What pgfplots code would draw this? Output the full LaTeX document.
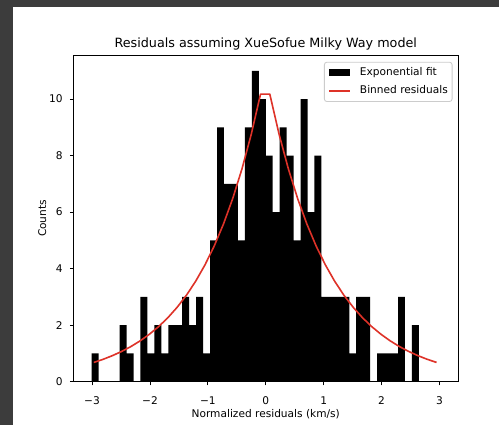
\documentclass[border=0pt]{standalone}
\usepackage{pgfplots}
\pgfplotsset{compat=1.18}
\usepackage{fontspec}
\setmainfont{DejaVu Sans}

\definecolor{framegray}{RGB}{60,60,60}
\definecolor{fitred}{RGB}{222,50,40}
\definecolor{legedge}{RGB}{204,204,204}

\newcommand{\tickfont}{\fontsize{10.6}{12.7}\selectfont}
\newcommand{\titlefont}{\fontsize{12.75}{15}\selectfont}

\begin{document}
\begin{tikzpicture}
\path[use as bounding box] (0pt,0pt) rectangle (499pt,425pt);
\fill[framegray] (0pt,0pt) rectangle (499pt,425pt);
\fill[white] (13pt,0pt) rectangle (499pt,418pt);
\begin{axis}[
  at={(73.5pt,43.3pt)}, anchor=south west, scale only axis,
  width=384.5pt, height=326.4pt,
  xmin=-3.32, xmax=3.32, ymin=0, ymax=11.55,
  axis line style={line width=0.85pt, black},
  tick style={line width=0.85pt, black},
  major tick length=3.7pt,
  tick align=outside,
  xtick pos=left, ytick pos=left,
  xtick={-3,-2,-1,0,1,2,3},
  xticklabels={−3,−2,−1,0,1,2,3},
  ytick={0,2,4,6,8,10},
  /pgf/number format/assume math mode=true,
  ticklabel style={font=\tickfont},
  xticklabel style={anchor=base, inner sep=0pt, yshift=-18.8pt},
  yticklabel style={anchor=east, inner sep=0pt, xshift=-7pt},
  title={Residuals assuming XueSofue Milky Way model},
  title style={font=\titlefont, at={(axis description cs:0.5,1)}, anchor=base, inner sep=0pt, yshift=2.1pt},
  xlabel={Normalized residuals (km/s)},
  xlabel style={font=\tickfont, at={(axis description cs:0.5,0)}, anchor=base, inner sep=0pt, yshift=-36pt},
  ylabel={Counts},
  ylabel style={font=\tickfont, at={(axis description cs:0,0.5)}, anchor=center, inner sep=0pt, yshift=31.2pt},
  legend cell align=left,
  legend style={at={(1,1)}, anchor=north east, xshift=-5.5pt, yshift=-6.5pt,
    draw=legedge, line width=0.85pt, rounded corners=2.5pt, fill=white,
    inner xsep=4.3pt, inner ysep=5.3pt, row sep=8.7pt, column sep=8.7pt,
    font=\tickfont,
    nodes={inner sep=0pt, text height=7.7pt, text depth=2.3pt, anchor=west}},
]
% histogram of the normalized residuals: 47 bins of width 0.1202 from -3.005
\addplot[const plot, fill=black, draw=none,
  legend image code/.code={\fill[black, sharp corners] (0pt,-3.7pt) rectangle (21pt,3.7pt);}]
coordinates {
(-3.0050,1) (-2.8848,0) (-2.7646,0) (-2.6444,0) (-2.5242,2) (-2.4040,1)
(-2.2838,0) (-2.1636,3) (-2.0434,1) (-1.9232,2) (-1.8030,1) (-1.6828,2)
(-1.5626,2) (-1.4424,3) (-1.3222,2) (-1.2020,3) (-1.0818,1) (-0.9616,5)
(-0.8414,9) (-0.7212,7) (-0.6010,7) (-0.4808,5) (-0.3606,9) (-0.2404,11)
(-0.1202,10) (0.0000,8) (0.1202,6) (0.2404,9) (0.3606,8) (0.4808,5)
(0.6010,10) (0.7212,6) (0.8414,8) (0.9616,3) (1.0818,3) (1.2020,3)
(1.3222,3) (1.4424,1) (1.5626,3) (1.6828,3) (1.8030,0) (1.9232,1)
(2.0434,1) (2.1636,1) (2.2838,3) (2.4040,0) (2.5242,2) (2.6444,2)
} \closedcycle;
\addlegendentry{Exponential fit}
% fitted two-sided exponential profile
\addplot[fitred, line width=1.6pt, line join=round,
  legend image code/.code={\draw[fitred, line width=1.6pt, sharp corners] (0pt,0pt) -- (21pt,0pt);}]
coordinates {
(-2.97,0.681) (-2.81,0.791) (-2.65,0.920) (-2.49,1.069) (-2.33,1.242)
(-2.17,1.444) (-2.01,1.678) (-1.85,1.949) (-1.69,2.265) (-1.53,2.633)
(-1.37,3.059) (-1.21,3.555) (-1.05,4.132) (-0.89,4.801) (-0.73,5.580)
(-0.57,6.484) (-0.41,7.535) (-0.25,8.757) (-0.09,10.176) (0.07,10.176)
(0.23,8.757) (0.39,7.535) (0.55,6.484) (0.71,5.580) (0.87,4.801)
(1.03,4.132) (1.19,3.555) (1.35,3.059) (1.51,2.633) (1.67,2.265)
(1.83,1.949) (1.99,1.678) (2.15,1.444) (2.31,1.242) (2.47,1.069)
(2.63,0.920) (2.79,0.791) (2.95,0.681)
};
\addlegendentry{Binned residuals}
\end{axis}
\end{tikzpicture}
\end{document}
